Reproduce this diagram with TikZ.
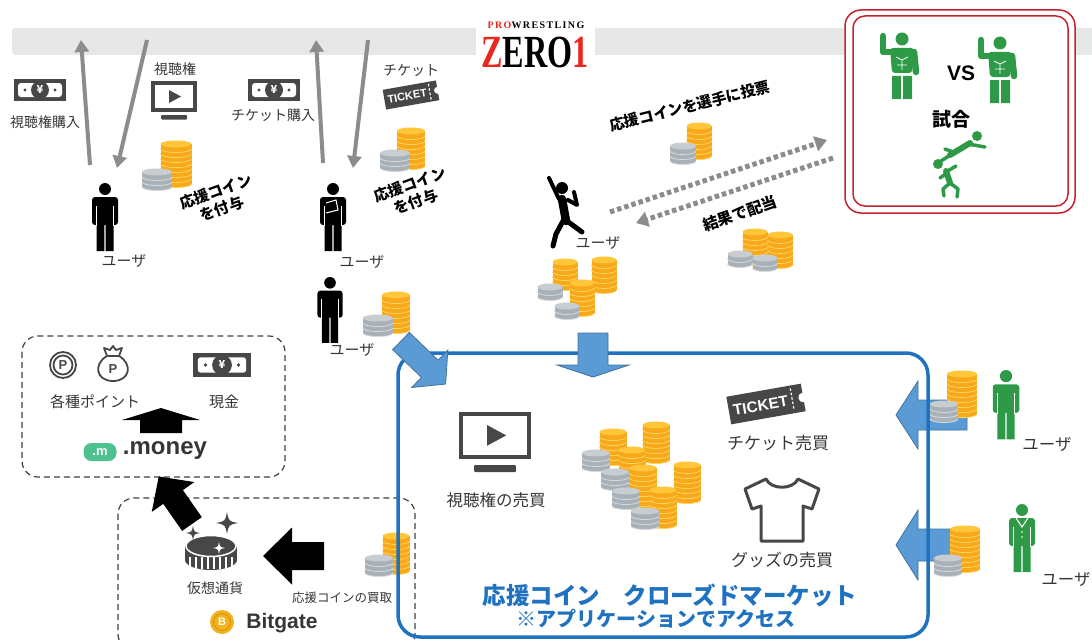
\documentclass[tikz,border=0pt]{standalone}
\usepackage{fontspec}
\usepackage{graphicx}
\setmainfont{Noto Sans CJK JP}
\newfontfamily\latinsans{Liberation Sans}
\newfontfamily\logoserif{Liberation Serif}
\usetikzlibrary{arrows.meta}

\definecolor{icongray}{HTML}{474747}
\definecolor{textgray}{HTML}{363636}
\definecolor{arrowgray}{HTML}{8C8C8C}
\definecolor{bandgray}{HTML}{E8E7E7}
\definecolor{boxgray}{HTML}{404040}
\definecolor{zred}{HTML}{E8281E}
\definecolor{matchred}{HTML}{C6222B}
\definecolor{wgreen}{HTML}{2E9A47}
\definecolor{marketblue}{HTML}{1F72C0}
\definecolor{arrowblue}{HTML}{5B9BD5}
\definecolor{arrowblueline}{HTML}{41719C}
\definecolor{moneygreen}{HTML}{4DC28F}
\definecolor{bitgold}{HTML}{F2B21B}
\definecolor{bitgoldrim}{HTML}{D99412}
\definecolor{goldside}{HTML}{F7A81B}
\definecolor{goldrim}{HTML}{FFD45C}
\definecolor{goldtop}{HTML}{FFC63A}
\definecolor{silverside}{HTML}{A9B1B8}
\definecolor{silverrim}{HTML}{D6DADE}
\definecolor{silvertop}{HTML}{C8CDD2}

\newcommand\fsz[1]{\fontsize{#1}{#1}\selectfont}

% stack of coins: x, y of lowest rim, half width, number of coins, gold/silver
\newcommand\coinstack[5]{%
  \begin{scope}[shift={(#1,#2)}]
    \foreach \k in {1,...,#4}{
      \fill[#5side] (-#3,-\k*5+5) rectangle (#3,-\k*5);
      \fill[#5side] (0,-\k*5+5) ellipse (#3 and 3.5);
      \draw[#5rim,line width=0.8pt] (-#3,-\k*5+5) arc[start angle=180,end angle=0,x radius=#3,y radius=3.5];
    }
    \fill[#5top] (0,-#4*5) ellipse (#3 and 3.5);
  \end{scope}}

% standing user: x, y of head top, scale, colour
\newcommand\userfig[4]{%
  \begin{scope}[shift={(#1,#2)},scale=#3]
    \fill[#4] (0,6) circle (6);
    \fill[#4,rounded corners=3pt] (-13,14) rectangle (13,42);
    \fill[#4] (-8.5,38) rectangle (-0.7,68) (0.7,38) rectangle (8.5,68);
    \draw[white,line width=0.9pt] (-8.5,23) -- (-8.5,43) (8.5,23) -- (8.5,43);
  \end{scope}}

% wrestler with one fist up: x, y of head top
\newcommand\wrestler[2]{%
  \begin{scope}[shift={(#1,#2)}]
    \fill[wgreen] (0,7) circle (6.5);
    \fill[wgreen,rounded corners=3pt] (-12,16) -- (12,16) -- (10,41) -- (-10,41) -- cycle;
    \fill[wgreen] (-10,44) rectangle (-1,67) (1,44) rectangle (10,67);
    \draw[wgreen,line width=6.5pt,line cap=round,line join=round] (-11,20) -- (-19,20) -- (-19,4);
    \draw[wgreen,line width=6.5pt,line cap=round] (12,20) -- (14,40);
    \draw[white,line width=0.8pt] (-6,25) -- (0,28) -- (6,25) (0,28) -- (0,38) (-5,33) -- (5,33);
    \draw[white,line width=1.2pt] (-10,42.5) -- (10,42.5);
  \end{scope}}

% yen note: centre x, y, scale
\newcommand\billicon[3]{%
  \begin{scope}[shift={(#1,#2)},scale=#3]
    \fill[icongray] (-26,-11) rectangle (26,11);
    \fill[white,rounded corners=3pt] (-22,-7) rectangle (22,7);
    \fill[icongray] (0,0) circle (9);
    \fill[icongray] (-15,0) circle (1.6) (15,0) circle (1.6);
    \node[text=white,font=\bfseries\fsz{11}] at (0,0) {¥};
  \end{scope}}

% monitor with play mark: centre x, y, scale
\newcommand\tvicon[3]{%
  \begin{scope}[shift={(#1,#2)},scale=#3]
    \draw[icongray,line width=4pt] (-21,-17) rectangle (21,10);
    \fill[icongray] (-5,-10) -- (7,-3.5) -- (-5,3) -- cycle;
    \fill[icongray,rounded corners=1pt] (-13,15) rectangle (13,19.5);
  \end{scope}}

% ticket stub: centre x, y, scale
\newcommand\ticketicon[3]{%
  \begin{scope}[shift={(#1,#2)},rotate=10,scale=#3]
    \fill[icongray] (-27,-10) rectangle (27,10);
    \fill[white] (27,0) circle (3.5);
    \draw[white,line width=1.2pt,dash pattern=on 2.5pt off 2pt] (19,-8) -- (19,8);
    \node[text=white,font=\latinsans\bfseries\fsz{11},transform shape,inner sep=0pt] at (-4,0.5) {TICKET};
  \end{scope}}

% four-point sparkle: x, y, radius, colour
\newcommand\sparkle[4]{%
  \begin{scope}[shift={(#1,#2)}]
    \fill[#4] (0,-#3) .. controls ({0.16*#3},{-0.16*#3}) .. (#3,0) .. controls ({0.16*#3},{0.16*#3}) .. (0,#3)
      .. controls ({-0.16*#3},{0.16*#3}) .. (-#3,0) .. controls ({-0.16*#3},{-0.16*#3}) .. cycle;
  \end{scope}}

% block arrow along the local x axis: style, tail, angle, length, head length, shaft half width, head half width
\newcommand\blockarrow[7]{%
  \begin{scope}[shift={#2},rotate=#3]
    \filldraw[#1] (0,-#6) -- ({#4-#5},-#6) -- ({#4-#5},-#7) -- (#4,0) -- ({#4-#5},#7) -- ({#4-#5},#6) -- (0,#6) -- cycle;
  \end{scope}}

\begin{document}
\begin{tikzpicture}[x=1pt,y=-1pt,
  flow/.style={draw=arrowgray,line width=4pt,-{Triangle[length=12pt,width=14pt]}},
  vote/.style={draw=arrowgray,line width=5pt,dash pattern=on 4.5pt off 3pt,-{Triangle[length=12pt,width=15pt]}},
  lbl/.style={inner sep=0pt,text=textgray,font=\fsz{14}},
  bold/.style={inner sep=0pt,text=black,font=\bfseries\fontsize{15}{18}\selectfont,align=center},
  dashbox/.style={draw=boxgray,line width=1.2pt,dash pattern=on 6pt off 4pt,rounded corners=16pt},
  blk/.style={fill=black,draw=none},
  bluearrow/.style={fill=arrowblue,draw=arrowblueline,line width=0.8pt}]
\useasboundingbox (0,0) rectangle (1092,642);

% band and logo
\fill[bandgray,rounded corners=3pt] (12,28) rectangle (1110,55);
\fill[white] (476,18) rectangle (595,70);
\node[inner sep=0pt] (prowrestling) at (536,25)
  {\logoserif\bfseries\fsz{10}\addfontfeatures{LetterSpace=14}\textcolor{zred}{PRO}WRESTLING};
\node[inner sep=0pt] (zero1) at (535,52)
  {\scalebox{0.7}[1]{\logoserif\bfseries\fsz{46}\textcolor{zred}{Z}ERO\textcolor{zred}{1}}};

% viewing rights buyer
\billicon{40}{90}{1}
\node[lbl] (buyview) at (45,122) {視聴権購入};
\node[lbl] (viewright) at (175,69) {視聴権};
\tvicon{174}{100}{1}
\coinstack{176}{184}{15.5}{8}{gold}
\coinstack{157}{187}{15}{3}{silver}
\node[bold,rotate=20] (giveA) at (219,200) {応援コイン\\を付与};
\userfig{105}{183}{1}{black}
\node[lbl,font=\fsz{15}] (userA) at (124,261) {ユーザ};
\coordinate (viewerUp) at (90,165);
\coordinate (bandUp) at (81,40);
\coordinate (bandDown) at (147,40);
\coordinate (viewerDown) at (117,168);
\draw[flow] (viewerUp) -- (bandUp);
\draw[flow] (bandDown) -- (viewerDown);

% ticket buyer
\billicon{274}{90}{1}
\node[lbl] (buyticket) at (273,115) {チケット購入};
\node[lbl] (ticketright) at (411,70) {チケット};
\ticketicon{411}{95}{1}
\coinstack{411}{166}{14}{7}{gold}
\coinstack{395}{168}{15}{3}{silver}
\node[bold,rotate=20] (giveB) at (413,193) {応援コイン\\を付与};
\userfig{333}{183}{1}{black}
\draw[white,line width=1pt] (326,203) -- (336,200) -- (338,210) -- (326,213);
\node[lbl,font=\fsz{15}] (userB) at (362,262) {ユーザ};
\coordinate (buyerUp) at (323,163);
\coordinate (bandUpB) at (316,40);
\coordinate (bandDownB) at (368,40);
\coordinate (buyerDown) at (353,168);
\draw[flow] (buyerUp) -- (bandUpB);
\draw[flow] (bandDownB) -- (buyerDown);

% holder of coins
\userfig{330}{277}{0.97}{black}
\coinstack{396}{330}{14}{7}{gold}
\coinstack{378}{333}{15}{3}{silver}
\node[lbl,font=\fsz{15}] (userC) at (352,350) {ユーザ};

% voting on a match
\node[bold,rotate=14] (voteText) at (690,106) {応援コインを選手に投票};
\coinstack{699}{156}{12.5}{6}{gold}
\coinstack{683}{161}{13}{3}{silver}
\coordinate (voteFrom) at (610,212);
\coordinate (voteTo) at (827,140);
\coordinate (payFrom) at (833,158);
\coordinate (payTo) at (636,223);
\draw[vote] (voteFrom) -- (voteTo);
\draw[vote] (payFrom) -- (payTo);
\node[bold,rotate=19,font=\bfseries\fsz{15.5}] (payText) at (740,213) {結果で配当};
\coinstack{755}{262}{12.5}{6}{gold}
\coinstack{780}{265}{12.5}{6}{gold}
\coinstack{740}{264}{12.5}{2}{silver}
\coinstack{765}{268}{12.5}{2}{silver}

% jumping user
\fill (562,188) circle (6);
\draw[line width=8.5pt,line cap=round] (562,199) -- (566,221);
\draw[line width=4pt,line cap=round] (559,199) -- (549,178);
\draw[line width=4pt,line cap=round,line join=round] (568,200) -- (577,205) -- (574,192);
\draw[line width=5pt,line cap=round,line join=round] (563,221) -- (556,234) -- (553,246);
\draw[line width=5pt,line cap=round] (567,221) -- (582,232);
\node[lbl,font=\fsz{15}] (userD) at (598,243) {ユーザ};
\coinstack{565}{287}{12.5}{5}{gold}
\coinstack{604}{290}{12.5}{6}{gold}
\coinstack{550}{297}{12.5}{2}{silver}
\coinstack{582}{313}{12.5}{6}{gold}
\coinstack{567}{316}{12.5}{2}{silver}

% match box
\filldraw[fill=white,draw=matchred,line width=1.5pt,rounded corners=16pt] (845,10) rectangle (1075,213);
\draw[matchred,line width=1.5pt,rounded corners=12pt] (853,16) rectangle (1068,206);
\wrestler{902}{32}
\wrestler{1000}{36}
\node[inner sep=0pt,font=\latinsans\bfseries\fsz{21}] (vs) at (961,73) {VS};
\node[bold,font=\bfseries\fsz{19}] (match) at (951,119) {試合};
\fill[wgreen] (977,136) circle (5);
\draw[wgreen,line width=6pt,line cap=round] (970,143) -- (950,155);
\draw[wgreen,line width=3.5pt,line cap=round] (968,144) -- (985,147) (952,154) -- (941,161) (953,152) -- (945,149);
\fill[wgreen] (938,164) circle (5);
\draw[wgreen,line width=6pt,line cap=round] (946,171) -- (950,183);
\draw[wgreen,line width=3.5pt,line cap=round,line join=round] (946,172) -- (956,166) (947,173) -- (940,178)
  (950,183) -- (943,189) -- (944,196) (950,183) -- (958,189) -- (957,197);

% points and cash box
\draw[dashbox] (22,336) rectangle (285,477);
\draw[icongray,line width=1.8pt] (63,365) circle (13) (63,365) circle (9.5);
\node[inner sep=0pt,text=icongray,font=\latinsans\bfseries\fsz{13}] (pcoin) at (63,365) {P};
\draw[icongray,line width=1.8pt,line join=round] (107,356) .. controls (93,364) and (96,381) .. (113,381)
  .. controls (130,381) and (133,364) .. (119,356) -- cycle;
\draw[icongray,line width=1.8pt,line join=round] (107,356) -- (104,348) -- (110,350) -- (113,346) -- (116,350) -- (122,348) -- (119,356);
\node[inner sep=0pt,text=icongray,font=\latinsans\bfseries\fsz{13}] (pbag) at (113,369) {P};
\node[lbl,font=\fsz{15}] (points) at (95,402) {各種ポイント};
\billicon{222}{365}{1.1}
\node[lbl,font=\fsz{15}] (cash) at (224,402) {現金};
\blockarrow{blk}{(161,433)}{90}{25}{12}{21}{39}
\node[fill=moneygreen,text=white,rounded corners=8pt,inner sep=0pt,minimum width=33pt,minimum height=18pt,
  font=\latinsans\bfseries\fsz{13}] (mbadge) at (100,452) {.m};
\node[inner sep=0pt,text=textgray,font=\latinsans\bfseries\fsz{24}] (money) at (165,451) {.money};

% crypto box
\draw[dashbox] (118,498) rectangle (415,650);
\blockarrow{blk}{(192,524)}{125}{58}{25}{12}{26}
\fill[icongray] (185,546) rectangle (237,560);
\fill[icongray] (211,560) ellipse (26 and 10);
\foreach \x in {-21,-15,...,21}
  \draw[white,line width=1.3pt] (211+\x,557) -- (211+\x,569);
\filldraw[fill=icongray,draw=white,line width=1.5pt] (211,546) ellipse (25 and 10.5);
\sparkle{227}{523}{11}{icongray}
\sparkle{193}{533}{7}{icongray}
\sparkle{219}{548}{6}{white}
\node[lbl,font=\fsz{14}] (crypto) at (215,588) {仮想通貨};
\blockarrow{blk}{(324,556)}{180}{61}{29}{14}{28.5}
\node[lbl,font=\fsz{12.5}] (buyback) at (342,598) {応援コインの買取};
\coinstack{396}{571}{13.5}{7}{gold}
\coinstack{379}{573}{14}{3}{silver}
\fill[bitgold] (222,622) circle (12);
\draw[bitgoldrim,line width=1pt] (222,622) circle (8.5);
\node[inner sep=0pt,text=white,font=\latinsans\bfseries\fsz{11}] (bcoin) at (222,622) {B};
\node[inner sep=0pt,text=textgray,font=\latinsans\bfseries\fsz{21}] (bitgate) at (282,623) {Bitgate};

% closed market
\blockarrow{bluearrow}{(967,415)}{180}{71}{22}{15}{34}
\blockarrow{bluearrow}{(967,545)}{180}{71}{22}{16}{35}
\draw[marketblue,line width=3.5pt,rounded corners=22pt] (398,353) rectangle (928,637);
\blockarrow{bluearrow}{(593,333)}{-90}{44}{12}{15}{36}
\blockarrow{bluearrow}{(401,341)}{-44}{62}{22}{12}{26}
\tvicon{495}{441}{1.6}
\node[lbl,font=\fsz{16.5}] (sellview) at (496,500) {視聴権の売買};
\coinstack{613}{462}{13.5}{6}{gold}
\coinstack{656}{460}{13.5}{7}{gold}
\coinstack{596}{468}{14}{3}{silver}
\coinstack{632}{490}{13.5}{8}{gold}
\coinstack{615}{487}{14}{3}{silver}
\coinstack{687}{500}{13.5}{7}{gold}
\coinstack{643}{508}{13.5}{8}{gold}
\coinstack{626}{506}{14}{3}{silver}
\coinstack{663}{525}{13.5}{7}{gold}
\coinstack{645}{526}{14}{3}{silver}
\ticketicon{766}{404}{1.4}
\node[lbl,font=\fsz{17}] (sellticket) at (778,443) {チケット売買};
\filldraw[fill=white,draw=icongray,line width=3pt,line join=round]
  (766,479) .. controls (771,490) and (793,490) .. (798,479) -- (819,489) -- (812,509) -- (803,506)
  -- (803,541) -- (761,541) -- (761,506) -- (752,509) -- (745,489) -- cycle;
\node[lbl,font=\fsz{17}] (sellgoods) at (782,560) {グッズの売買};
\node[inner sep=0pt,text=marketblue,font=\bfseries\fsz{23.5}] (market) at (670,595) {応援コイン　クローズドマーケット};
\node[inner sep=0pt,text=marketblue,font=\bfseries\fsz{20}] (access) at (656,619) {※アプリケーションでアクセス};

% users bringing coins in
\coinstack{962}{414}{15}{8}{gold}
\coinstack{944}{419}{14}{3}{silver}
\userfig{1006}{370}{1.02}{wgreen}
\node[lbl,font=\fsz{16.5}] (userE) at (1047,444) {ユーザ};
\coinstack{965}{569}{15}{8}{gold}
\coinstack{948}{573}{14}{3}{silver}
\userfig{1022}{504}{1}{wgreen}
\draw[white,line width=1pt] (1016,518) -- (1022,527) -- (1028,518);
\fill[white] (1022,532) circle (0.9) (1022,537) circle (0.9);
\node[lbl,font=\fsz{16.5}] (userF) at (1066,579) {ユーザ};
\end{tikzpicture}
\end{document}
